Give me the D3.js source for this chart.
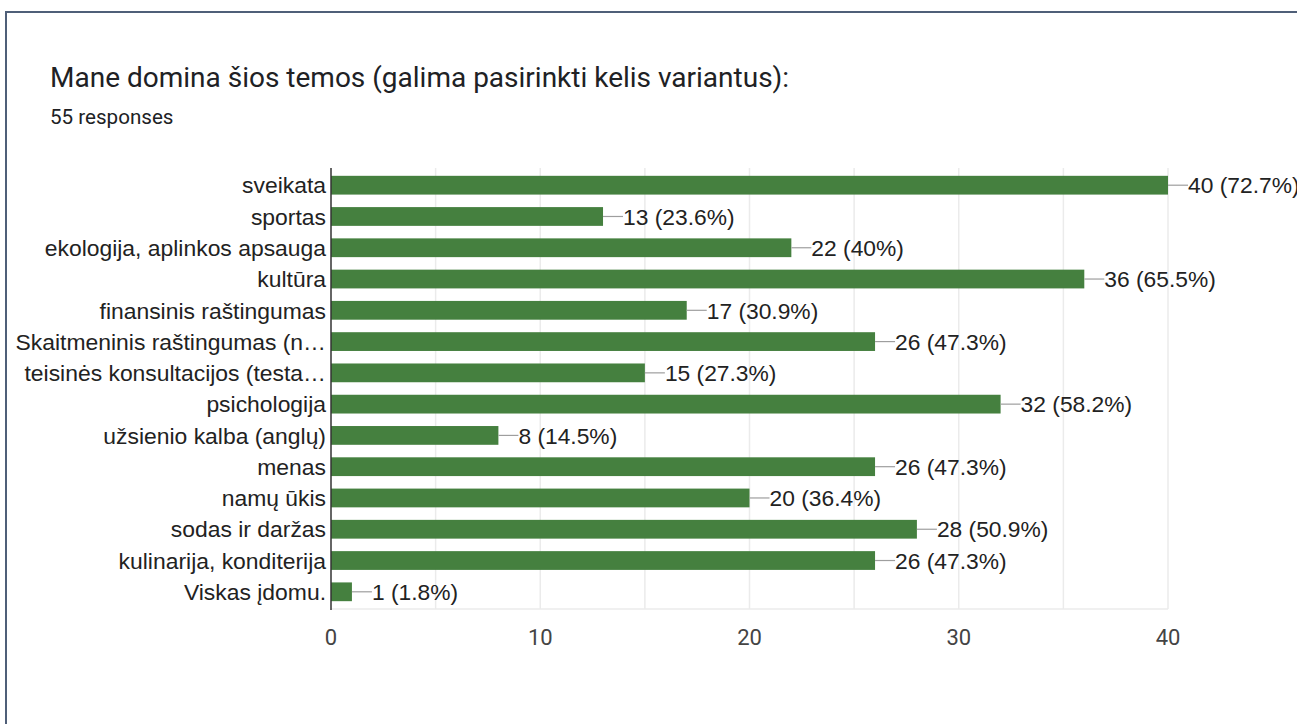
<!DOCTYPE html>
<html><head><meta charset="utf-8">
<script src="https://cdn.jsdelivr.net/npm/d3@7"></script>
<style>
html,body{margin:0;padding:0;background:#fff;}
svg{display:block;}
</style></head>
<body>
<svg id="chart" width="1297" height="724"></svg>
<script>
const categories = ["sveikata","sportas","ekologija, aplinkos apsauga","kultūra","finansinis raštingumas","Skaitmeninis raštingumas (n…","teisinės konsultacijos (testa…","psichologija","užsienio kalba (anglų)","menas","namų ūkis","sodas ir daržas","kulinarija, konditerija","Viskas įdomu."];
const counts = [40,13,22,36,17,26,15,32,8,26,20,28,26,1];
const percents = ["72.7%","23.6%","40%","65.5%","30.9%","47.3%","27.3%","58.2%","14.5%","47.3%","36.4%","50.9%","47.3%","1.8%"];
const xTicks = [0,10,20,30,40];
const gridValues = [5,10,15,20,25,30,35,40];
const title = "Mane domina šios temos (galima pasirinkti kelis variantus):";
const subtitle = "55 responses";

const svg = d3.select("#chart");
// card border
svg.append("path").attr("d","M6,724 V12 H1297").attr("fill","none").attr("stroke","#4f5f78").attr("stroke-width",2);

svg.append("text").attr("x",50).attr("y",87).attr("font-family","Roboto").attr("font-size",28).attr("fill","#202124").text(title);
svg.append("text").attr("x",50).attr("y",124).attr("font-family","Roboto").attr("font-size",20.6).attr("fill","#202124").text(subtitle);

const x = d3.scaleLinear().domain([0,40]).range([331,1168]);
const y = d3.scaleBand().domain(categories).range([168,609]).paddingInner(0.4).paddingOuter(0.25);

// gridlines
svg.append("g").selectAll("line").data(gridValues).join("line")
  .attr("x1",d=>x(d)).attr("x2",d=>x(d)).attr("y1",168).attr("y2",609)
  .attr("stroke","#ebebeb").attr("stroke-width",1.5);
svg.append("line").attr("x1",331).attr("x2",1168).attr("y1",609).attr("y2",609).attr("stroke","#ebebeb").attr("stroke-width",1.5);

// bars
svg.append("g").selectAll("rect").data(counts).join("rect")
  .attr("x",x(0)).attr("y",(d,i)=>y(categories[i]))
  .attr("width",d=>x(d)-x(0)).attr("height",y.bandwidth())
  .attr("fill","#45803f");

// connectors + labels
const lab = svg.append("g");
counts.forEach((d,i)=>{
  const cy = y(categories[i]) + y.bandwidth()/2;
  lab.append("line").attr("x1",x(d)).attr("x2",x(d)+20).attr("y1",cy).attr("y2",cy).attr("stroke","#9e9e9e").attr("stroke-width",1.2);
  lab.append("text").attr("x",x(d)+20).attr("y",cy).attr("dy","0.36em")
    .attr("font-family","Liberation Sans, Arial").attr("font-size",22.8).attr("fill","#222")
    .text(d + " (" + percents[i] + ")");
});

// category labels
svg.append("g").selectAll("text").data(categories).join("text")
  .attr("x",326).attr("y",d=>y(d)+y.bandwidth()/2).attr("dy","0.36em")
  .attr("text-anchor","end").attr("font-family","Liberation Sans, Arial").attr("font-size",22.9).attr("fill","#222")
  .text(d=>d);

// axis line
svg.append("line").attr("x1",331).attr("x2",331).attr("y1",168).attr("y2",610).attr("stroke","#333").attr("stroke-width",1.5);

// x tick labels
svg.append("g").selectAll("text").data(xTicks).join("text")
  .attr("x",d=>x(d)).attr("y",645).attr("text-anchor","middle")
  .attr("font-family","Roboto").attr("font-size",22).attr("fill","#444").text(d=>d);
</script>
</body></html>
